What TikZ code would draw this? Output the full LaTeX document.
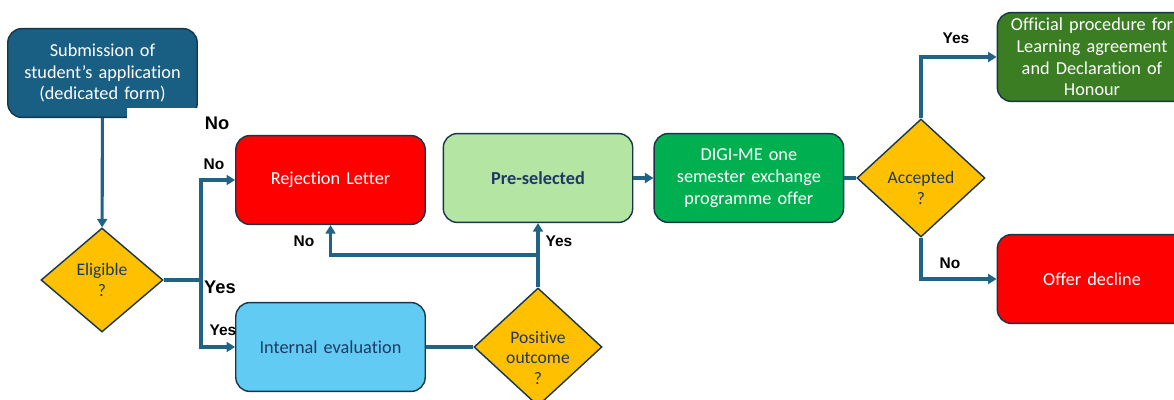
\documentclass[tikz,border=0pt]{standalone}
\usepackage{fontspec}
\setmainfont{Carlito}[Ligatures=CommonOff]
\newfontfamily\tagfont{Liberation Sans}
\usetikzlibrary{shapes.geometric, positioning, arrows.meta}

\definecolor{flowline}{HTML}{1F6485}
\definecolor{boxedge}{HTML}{17364A}
\definecolor{submitblue}{HTML}{195E83}
\definecolor{decisionyellow}{HTML}{FFC000}
\definecolor{textnavy}{HTML}{1F3864}
\definecolor{rejectred}{HTML}{FF0000}
\definecolor{evalblue}{HTML}{61CBF3}
\definecolor{preselgreen}{HTML}{B4E5A2}
\definecolor{offergreen}{HTML}{00B050}
\definecolor{procgreen}{HTML}{3A7D22}

\tikzset{
  stepbox/.style={draw=boxedge, line width=1pt, rounded corners=10pt,
    minimum width=4.7cm, minimum height=2.22cm, text width=4.5cm,
    align=center, font=\fontsize{13}{15.5}\selectfont},
  decision/.style={diamond, draw=boxedge, line width=1pt, fill=decisionyellow,
    text=textnavy, minimum width=3.2cm, minimum height=2.95cm, inner sep=0pt,
    align=center, font=\fontsize{12.5}{14.5}\selectfont},
  dtext/.style={text=textnavy, align=center, font=\fontsize{12.5}{14.5}\selectfont},
  flow/.style={draw=flowline, line width=2.2pt, -{Triangle[length=6pt,width=7pt]}},
  link/.style={draw=flowline, line width=2.2pt},
  bigtag/.style={font=\tagfont\bfseries\fontsize{13}{15}\selectfont},
  smalltag/.style={font=\tagfont\bfseries\fontsize{11}{13}\selectfont},
}

\begin{document}
\begin{tikzpicture}[x=0.025cm, y=-0.025cm]
	\useasboundingbox (0,0) rectangle (1174,400);
	\clip (0,0) rectangle (1174,400);
	
	% boxes and decisions
	\node[stepbox, fill=submitblue, text=white]		(submit)	at (102.5,73)	{Submission of\\student's application\\(dedicated form)};
	\node[decision, minimum width=3.05cm, minimum height=2.6cm]
													(elig)		at (102,280)	{Eligible\\?};
	\node[stepbox, fill=rejectred, text=white]		(reject)	at (330.5,180)	{Rejection Letter};
	\node[stepbox, fill=evalblue, text=textnavy]	(evaluation) at (330.5,347)	{Internal evaluation};
	\node[decision, label={[dtext, yshift=-0.27cm]center:{Positive\\outcome\\?}}]
													(posout)	at (538,347)	{};
	\node[stepbox, fill=preselgreen, text=textnavy, font=\bfseries\fontsize{13}{15.5}\selectfont]
													(presel)	at (538,178)	{Pre-selected};
	\node[stepbox, fill=offergreen, text=white, right=0.5cm of presel]	(digi)	{DIGI-ME one\\semester exchange\\programme offer};
	\node[decision, right=0.3cm of digi, label={[dtext, yshift=-0.25cm]center:{Accepted\\?}}]
													(accept)				{};
	\node[stepbox, fill=procgreen, text=white]		(official)	at (1092,57)	{Official procedure for\\Learning agreement\\and Declaration of\\Honour};
	\node[stepbox, fill=rejectred, text=white]		(decline)	at (1092,279)	{Offer decline};
	
	\fill[white] (127,108) rectangle (205,121);
	
	% connectors
	\coordinate (fork) at (201,280);
	\coordinate (split) at (538,255);
	\draw[flow] (submit) -- (elig);
	\draw[link] (elig.east) -- (fork);
	\draw[flow] (fork) |- (reject.west);
	\draw[flow] (fork) |- (evaluation.west);
	\draw[link] (evaluation.east) -- (posout.west);
	\draw[flow] (posout) -- (presel);
	\draw[flow] (split) -| (reject.south);
	\draw[flow] (presel) -- (digi);
	\draw[link] (digi) -- (accept);
	\draw[flow] (accept.north) |- (official.west);
	\draw[flow] (accept.south) |- (decline.west);
	
	% answers
	\node[bigtag]	(noA)	at (217,123)	{No};
	\node[smalltag]	(noB)	at (214,164)	{No};
	\node[bigtag]	(yesA)	at (220,287)	{Yes};
	\node[smalltag]	(yesB)	at (223,330)	{Yes};
	\node[smalltag]	(noC)	at (304,241)	{No};
	\node[smalltag]	(yesC)	at (559,241)	{Yes};
	\node[smalltag]	(yesD)	at (956,38)		{Yes};
	\node[smalltag]	(noD)	at (950,263)	{No};
\end{tikzpicture}
\end{document}
